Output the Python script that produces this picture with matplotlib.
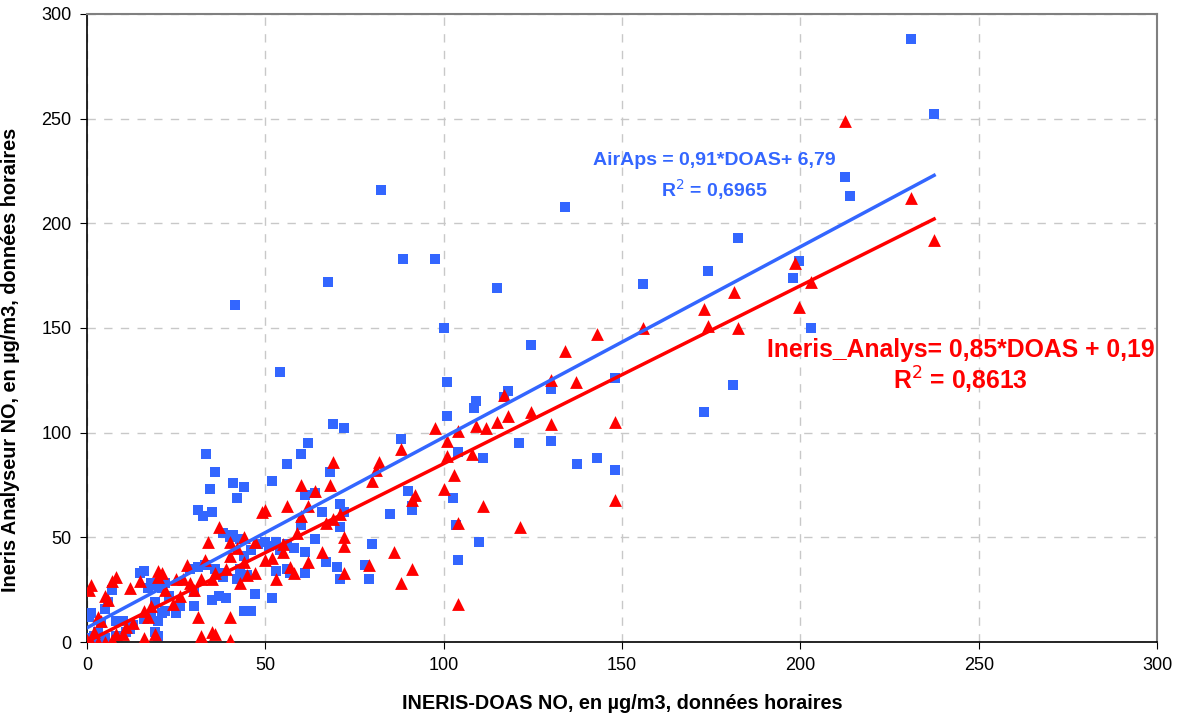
import numpy as np
import matplotlib
matplotlib.use("Agg")
from matplotlib import pyplot as plt

plt.rcParams['font.family'] = ['Liberation Sans', 'DejaVu Sans']

# AirAps analyser vs DOAS (blue squares)
airaps_x = [231, 237.5, 212.5, 214, 182.5, 199.5, 198, 174, 173, 181, 203,
            156, 148, 148, 143, 137.5, 134, 130, 130, 124.5, 121,
            115, 118, 117, 111, 110, 109, 108.5, 104, 103.5, 104, 102.5, 101, 100, 101, 97.5,
            88.5, 82.5, 88, 90, 91, 91, 85, 80, 79, 78,
            67.5, 69, 72, 68, 71, 72, 71, 70, 71,
            54, 60, 62, 56, 61, 64, 66, 64, 67, 61, 61, 56,
            41.5, 41, 42, 44, 33.5, 34.5, 36, 35, 31, 32.5, 38, 41, 43, 40,
            52, 48, 46, 50, 51, 53,
            0.5, 1, 2, 3, 4, 5, 6, 7, 8, 10, 11, 12, 15, 16, 17, 18, 19, 20, 21, 21,
            22, 22, 19, 20, 23, 26, 30, 29, 31, 33, 30, 36, 37, 35, 37, 39, 38, 42,
            43, 44, 45, 44, 46, 47, 52, 53, 56, 57, 60, 54, 58, 0, 1, 5, 8, 13, 16,
            18, 20, 25]
airaps_y = [288, 252, 222, 213, 193, 182, 174, 177, 110, 123, 150,
            171, 126, 82, 88, 85, 208, 121, 96, 142, 95,
            169, 120, 117, 88, 48, 115, 112, 91, 56, 39, 69, 124, 150, 108, 183,
            183, 216, 97, 72, 63, 65, 61, 47, 30, 37,
            172, 104, 102, 81, 66, 62, 55, 36, 30,
            129, 90, 95, 85, 70, 71, 62, 49, 38, 43, 33, 47,
            161, 76, 69, 74, 90, 73, 81, 62, 63, 60, 52, 51, 49, 50,
            77, 47, 44, 48, 46, 48,
            12, 14, 3, 5, 9, 16, 19, 25, 10, 10, 5, 6, 33, 34, 26, 12, 19, 27, 14, 26,
            28, 15, 5, 10, 22, 17, 17, 35, 36, 37, 24, 35, 33, 20, 22, 21, 31, 30,
            35, 41, 32, 15, 15, 23, 21, 34, 35, 33, 56, 44, 45, 0, 2, 2, 3, 8, 11,
            28, 3, 14]

# Ineris analyser vs DOAS (red triangles)
ineris_x = [212.5, 198.5, 231, 237.5, 203, 199.5, 181.5, 182.5, 174, 173, 156,
            143, 134, 137, 130, 130, 148, 148, 124.5, 121.5, 118, 117, 115, 112,
            111, 109, 108, 104, 104, 104, 103, 101, 101, 100, 97.5, 92, 91, 91, 88,
            88, 86, 80, 81, 82, 79, 72, 72, 71, 72, 69, 69, 68, 67, 66, 64, 62, 60,
            60, 59, 58, 57, 55, 56, 55, 52, 53, 50, 49, 47, 45, 44, 44, 43, 42, 40,
            40, 39, 40, 40, 37, 36, 35, 34, 33, 32, 32, 31, 30, 29, 28, 27, 26, 25,
            24, 22, 21, 20, 20, 19, 18, 17, 16, 16, 15, 13, 12, 11, 8, 7, 6, 5, 4,
            3, 2, 1, 0.5, 0, 1, 3, 5, 7, 8, 10, 35, 36, 47, 50, 62]
ineris_y = [249, 181, 212, 192, 172, 160, 167, 150, 151, 159, 150,
            147, 139, 124, 125, 104, 105, 68, 110, 55, 108, 118, 105, 102,
            65, 103, 90, 101, 57, 18, 80, 96, 89, 73, 102, 70, 68, 35, 92,
            28, 43, 77, 82, 86, 37, 50, 46, 61, 33, 86, 59, 75, 57, 43, 72, 65, 75,
            60, 52, 33, 36, 43, 65, 47, 40, 30, 39, 62, 48, 32, 38, 50, 28, 45, 48,
            41, 35, 12, 1, 55, 33, 30, 48, 39, 30, 3, 12, 25, 28, 37, 30, 22, 30,
            18, 25, 33, 34, 31, 4, 17, 12, 15, 2, 29, 9, 26, 7, 31, 29, 20, 22, 10,
            12, 5, 27, 25, 1, 0, 0, 0, 1, 4, 4, 5, 4, 33, 63, 38]

# trend line coefficients (slope, intercept) as printed on the chart
airaps_fit = (0.91, 6.79)
ineris_fit = (0.85, 0.19)

blue = '#3366FF'
red = '#FF0000'

fig = plt.figure(figsize=(11.85, 7.2), dpi=100)
ax = fig.add_axes([0.0734, 0.1083, 0.9030, 0.8723])

ax.scatter(airaps_x, airaps_y, marker='s', s=62, color=blue, linewidths=0, zorder=3)
ax.scatter(ineris_x, ineris_y, marker='^', s=85, color=red, linewidths=0, zorder=3)

xs = np.array([0, max(airaps_x)])
ax.plot(xs, airaps_fit[0] * xs + airaps_fit[1], color=blue, lw=2.5, zorder=4)
xs = np.array([0, max(ineris_x)])
ax.plot(xs, ineris_fit[0] * xs + ineris_fit[1], color=red, lw=2.5, zorder=4)

ax.text(176, 230, 'AirAps = 0,91*DOAS+ 6,79', color=blue, fontsize=14,
        fontweight='bold', ha='center', va='center', zorder=5)
ax.text(176, 216, 'R$^2$ = 0,6965', color=blue, fontsize=14,
        fontweight='bold', ha='center', va='center', zorder=5)
ax.text(245, 139.5, 'Ineris_Analys= 0,85*DOAS + 0,19', color=red, fontsize=17.8,
        fontweight='bold', ha='center', va='center', zorder=5)
ax.text(245, 125, 'R$^2$ = 0,8613', color=red, fontsize=17.8,
        fontweight='bold', ha='center', va='center', zorder=5)

ax.set_xlim(0, 300)
ax.set_ylim(0, 300)
ax.set_xticks(range(0, 301, 50))
ax.set_yticks(range(0, 301, 50))
ax.tick_params(labelsize=13, length=5, direction='out', pad=6)
ax.grid(True, color='#C8C8C8', linestyle=(0, (6, 6)), linewidth=1)
ax.set_axisbelow(True)

for side in ['left', 'bottom']:
    ax.spines[side].set_color('black')
    ax.spines[side].set_linewidth(1.2)
for side in ['top', 'right']:
    ax.spines[side].set_color('#808080')
    ax.spines[side].set_linewidth(1.5)

ax.set_xlabel('INERIS-DOAS NO, en µg/m3, données horaires', fontsize=14.3,
              fontweight='bold', labelpad=14)
ax.set_ylabel('Ineris Analyseur NO, en µg/m3, données horaires', fontsize=14.3,
              fontweight='bold')
ax.yaxis.set_label_coords(-0.063, 0.45)

plt.savefig('out.png', dpi=100)
